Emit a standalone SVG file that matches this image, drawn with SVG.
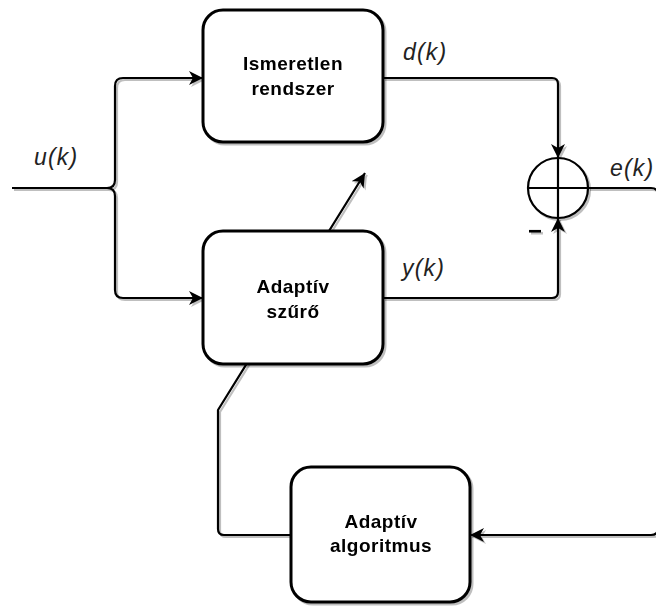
<svg xmlns="http://www.w3.org/2000/svg" width="656" height="606" viewBox="0 0 656 606">
<style>
.box{fill:#fff;stroke:#000;stroke-width:3}
.ln{fill:none;stroke:#000;stroke-width:2.2;stroke-linejoin:round}
.bt{font-family:"Liberation Sans",Arial,sans-serif;font-weight:bold;font-size:19px;letter-spacing:0.5px;text-anchor:middle;fill:#000}
.it{font-family:"Liberation Sans",Arial,sans-serif;font-style:italic;font-size:23px;letter-spacing:1.2px;fill:#222}
</style>
<defs>
<filter id="sh" filterUnits="userSpaceOnUse" x="0" y="0" width="656" height="606">
<feGaussianBlur in="SourceAlpha" stdDeviation="0.7"/>
<feOffset dx="2" dy="2" result="b"/>
<feFlood flood-color="#000" flood-opacity="0.25"/>
<feComposite in2="b" operator="in"/>
<feMerge><feMergeNode/><feMergeNode in="SourceGraphic"/></feMerge>
</filter>
<marker id="ar" markerWidth="16" markerHeight="14" refX="14" refY="7" orient="auto" markerUnits="userSpaceOnUse">
<path d="M0,0 L14,7 L0,14 L4,7 Z" fill="#000"/>
</marker>
</defs>
<g id="connectors" filter="url(#sh)">
<path class="ln" d="M12,188 H107 Q115,188 115,180 V86 Q115,78 123,78 H203" marker-end="url(#ar)"/>
<path class="ln" d="M107,188 Q115,188 115,196 V290 Q115,298 123,298 H203" marker-end="url(#ar)"/>
<path class="ln" d="M383,78 H552 Q558,78 558,84 V158" marker-end="url(#ar)"/>
<path class="ln" d="M383,298 H552 Q558,298 558,292 V218" marker-end="url(#ar)"/>
<path class="ln" d="M588,188 H651 Q658,188 658,195 V528 Q658,535 651,535 H470" marker-end="url(#ar)"/>
<path class="ln" d="M291,535 H224 Q218,535 218,529 V410 L365,173" marker-end="url(#ar)"/>
</g>
<g id="ismeretlen" filter="url(#sh)">
<rect class="box" x="203" y="10" width="180" height="132" rx="20"/>
<text class="bt" x="293" y="70">Ismeretlen</text>
<text class="bt" x="293" y="95">rendszer</text>
</g>
<g id="adaptiv-szuro" filter="url(#sh)">
<rect class="box" x="203" y="231" width="180" height="133" rx="20"/>
<text class="bt" x="293" y="293">Adaptív</text>
<text class="bt" x="293" y="318">szűrő</text>
</g>
<g id="adaptiv-algoritmus" filter="url(#sh)">
<rect class="box" x="291" y="467" width="179" height="135" rx="20"/>
<text class="bt" x="381" y="528">Adaptív</text>
<text class="bt" x="381" y="552">algoritmus</text>
</g>
<g id="summer" filter="url(#sh)">
<circle cx="558" cy="188" r="30" fill="#fff" stroke="#000" stroke-width="2.2"/>
<path d="M528,188 H588 M558,158 V218" stroke="#000" stroke-width="2.2" fill="none"/>
</g>
<g id="labels">
<text class="it" x="34" y="165">u(k)</text>
<text class="it" x="403" y="60">d(k)</text>
<text class="it" x="402" y="276">y(k)</text>
<text class="it" x="610" y="176">e(k)</text>
<text x="535" y="239" filter="url(#sh)" style="font-family:'Liberation Sans',Arial,sans-serif;font-weight:bold;font-size:24px;text-anchor:middle">−</text>
</g>
</svg>
